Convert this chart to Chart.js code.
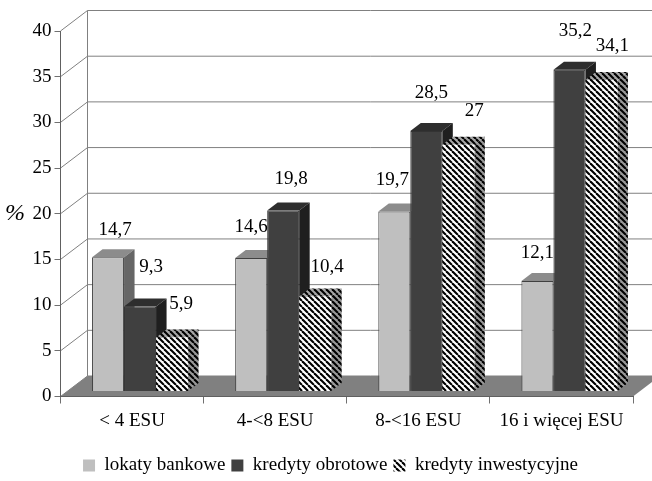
<!DOCTYPE html>
<html>
<head>
<meta charset="utf-8">
<style>
  html, body { margin: 0; padding: 0; background: #fff; }
  canvas { display: block; }
</style>
<script src="https://cdn.jsdelivr.net/npm/chart.js@4"></script>
</head>
<body>
<canvas id="chart" width="652" height="481"></canvas>
<script>
const categories = ["< 4 ESU", "4-<8 ESU", "8-<16 ESU", "16 i więcej ESU"];
const lokaty = [14.7, 14.6, 19.7, 12.1];
const obrotowe = [9.3, 19.8, 28.5, 35.2];
const inwestycyjne = [5.9, 10.4, 27, 34.1];

const font = "'Liberation Serif'";
const wallDepth = { x: 27, y: -20.5 };
const barShift = { x: 8, y: -5 };
const barDepth = { x: 10.5, y: -8 };

// label position relative to the bar top, placed by hand in the original
const labelNudge = [
  [[7, -27], [0, -31], [-2, -31], [0, -28]],
  [[11, -40], [8, -32], [5, -38], [6, -39]],
  [[9, -34], [12, -29], [16, -34], [11, -34]],
];

function stripes(light, dark) {
  const size = 6;
  const tile = document.createElement("canvas");
  tile.width = size;
  tile.height = size;
  const c = tile.getContext("2d");
  c.fillStyle = light;
  c.fillRect(0, 0, size, size);
  c.strokeStyle = dark;
  c.lineWidth = 2.1;
  [-size, 0, size].forEach((o) => {
    c.beginPath();
    c.moveTo(o, 0);
    c.lineTo(o + size, size);
    c.stroke();
  });
  return document.getElementById("chart").getContext("2d").createPattern(tile, "repeat");
}

const faces = [
  { top: "#8c8c8c", side: "#666666" },
  { top: "#2e2e2e", side: "#1f1f1f" },
  { top: stripes("#a6a6a6", "#000000"), side: stripes("#999999", "#000000") },
];

const box3d = {
  id: "box3d",
  afterLayout(chart) {
    chart.legend.left += 14;
    chart.legend.right += 14;
    chart.legend.top += 4;
    chart.legend.bottom += 4;
  },
  beforeDraw(chart) {
    const { ctx, chartArea: a, scales: { y } } = chart;
    const dx = wallDepth.x;
    const dy = wallDepth.y;
    ctx.save();
    ctx.fillStyle = "#808080";
    ctx.beginPath();
    ctx.moveTo(a.left, a.bottom);
    ctx.lineTo(a.left + dx, a.bottom + dy);
    ctx.lineTo(a.right + dx, a.bottom + dy);
    ctx.lineTo(a.right, a.bottom);
    ctx.closePath();
    ctx.fill();
    ctx.strokeStyle = "#808080";
    ctx.lineWidth = 1;
    y.ticks.forEach((t) => {
      const py = y.getPixelForValue(t.value);
      ctx.beginPath();
      ctx.moveTo(a.left, py);
      ctx.lineTo(a.left + dx, py + dy);
      ctx.lineTo(a.right + dx, py + dy);
      ctx.stroke();
    });
    ctx.beginPath();
    ctx.moveTo(a.left + dx, a.top + dy);
    ctx.lineTo(a.left + dx, a.bottom + dy);
    ctx.stroke();
    ctx.fillStyle = "#000";
    ctx.font = "italic 24px " + font;
    ctx.textAlign = "center";
    ctx.textBaseline = "middle";
    ctx.fillText("%", 15, y.getPixelForValue(20));
    ctx.restore();
  },
  // side and top faces go first, left bar to right bar, fronts cover them afterwards
  beforeDatasetsDraw(chart) {
    const { ctx } = chart;
    ctx.save();
    ctx.translate(barShift.x, barShift.y);
    chart.data.datasets.forEach((ds, i) => {
      const f = faces[i];
      chart.getDatasetMeta(i).data.forEach((bar) => {
        const l = bar.x - bar.width / 2;
        const r = bar.x + bar.width / 2;
        ctx.fillStyle = f.top;
        ctx.beginPath();
        ctx.moveTo(l, bar.y);
        ctx.lineTo(l + barDepth.x, bar.y + barDepth.y);
        ctx.lineTo(r + barDepth.x, bar.y + barDepth.y);
        ctx.lineTo(r, bar.y);
        ctx.closePath();
        ctx.fill();
        ctx.fillStyle = f.side;
        ctx.beginPath();
        ctx.moveTo(r, bar.y);
        ctx.lineTo(r + barDepth.x, bar.y + barDepth.y);
        ctx.lineTo(r + barDepth.x, bar.base + barDepth.y);
        ctx.lineTo(r, bar.base);
        ctx.closePath();
        ctx.fill();
      });
    });
    ctx.restore();
  },
  beforeDatasetDraw(chart) {
    chart.ctx.save();
    chart.ctx.translate(barShift.x, barShift.y);
  },
  afterDatasetDraw(chart) {
    chart.ctx.restore();
  },
  afterDatasetsDraw(chart) {
    const { ctx } = chart;
    ctx.save();
    ctx.fillStyle = "#000";
    ctx.font = "19px " + font;
    ctx.textAlign = "center";
    ctx.textBaseline = "middle";
    chart.data.datasets.forEach((ds, i) => {
      chart.getDatasetMeta(i).data.forEach((bar, j) => {
        const n = labelNudge[i][j];
        const text = String(ds.data[j]).replace(".", ",");
        ctx.fillText(text, bar.x + barShift.x + n[0], bar.y + barShift.y + n[1]);
      });
    });
    ctx.restore();
  },
};

new Chart(document.getElementById("chart"), {
  type: "bar",
  plugins: [box3d],
  data: {
    labels: categories,
    datasets: [
      { label: "lokaty bankowe", data: lokaty, backgroundColor: "#bfbfbf", borderColor: "#404040", borderWidth: 1 },
      { label: "kredyty obrotowe", data: obrotowe, backgroundColor: "#404040", borderColor: "#333333", borderWidth: 1 },
      { label: "kredyty inwestycyjne", data: inwestycyjne, backgroundColor: stripes("#ffffff", "#000000"), borderWidth: 0 },
    ],
  },
  options: {
    responsive: false,
    animation: false,
    barPercentage: 1,
    categoryPercentage: 0.671,
    layout: { padding: { top: 31, right: 19, left: 0, bottom: 0 } },
    plugins: {
      tooltip: { enabled: false },
      legend: {
        position: "bottom",
        labels: {
          boxWidth: 12,
          boxHeight: 12,
          padding: 6,
          color: "#000",
          font: { family: font, size: 19 },
          generateLabels: (chart) =>
            Chart.defaults.plugins.legend.labels.generateLabels(chart).map((l) => ({ ...l, lineWidth: 0 })),
        },
      },
    },
    scales: {
      x: {
        grid: { drawOnChartArea: false, color: "#707070", tickLength: 7, offset: true },
        border: { color: "#606060" },
        ticks: { color: "#000", padding: 6, maxRotation: 0, font: { family: font, size: 19 } },
        afterFit(s) { s.height = 84.5 - s.chart.legend.height; },
      },
      y: {
        min: 0,
        max: 40,
        grid: { drawOnChartArea: false, color: "#707070", tickLength: 6 },
        border: { color: "#606060" },
        ticks: { stepSize: 5, color: "#000", padding: 3, font: { family: font, size: 19 } },
        afterFit(s) { s.width = 60.5; },
      },
    },
  },
});
</script>
</body>
</html>
